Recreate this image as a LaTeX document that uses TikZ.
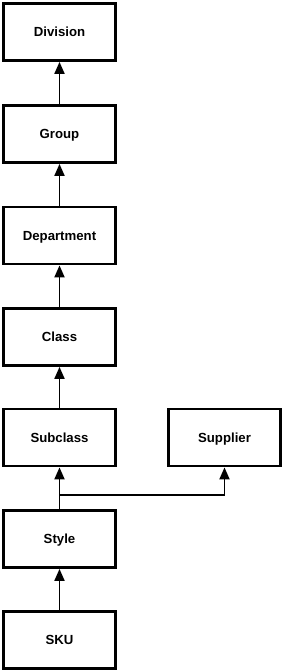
\documentclass[tikz,border=0pt]{standalone}
\usepackage{fontspec}
\setmainfont{Liberation Sans}
\usetikzlibrary{arrows.meta}
\begin{document}
\begin{tikzpicture}[x=1pt,y=-1pt,
  entity/.style={draw=black,line width=2.8pt,minimum width=112pt,minimum height=57pt,inner sep=0pt,text height=9.5pt,text depth=0pt,font=\fontsize{13.2}{15}\selectfont\bfseries,fill=white},
  link/.style={line width=1.9pt,-{Triangle[width=10pt,length=12pt]}}]
\useasboundingbox[fill=white] (0,0) rectangle (283,672);
\node[entity] (div) at (59.5,32) {Division};
\node[entity] (grp) at (59.5,134) {Group};
\node[entity] (dep) at (59.5,235.5) {Department};
\node[entity] (cls) at (59.5,337) {Class};
\node[entity] (sub) at (59.5,437.5) {Subclass};
\node[entity] (sup) at (224.5,437.5) {Supplier};
\node[entity] (sty) at (59.5,539) {Style};
\node[entity] (sku) at (59.5,640) {SKU};
\coordinate (j) at (59.5,495);
\draw[link] (grp) -- (div);
\draw[link] (dep) -- (grp);
\draw[link] (cls) -- (dep);
\draw[link] (sub) -- (cls);
\draw[link] (sty) -- (sub);
\draw[link] (sku) -- (sty);
\draw[link] (j) -| (sup);
\end{tikzpicture}
\end{document}
